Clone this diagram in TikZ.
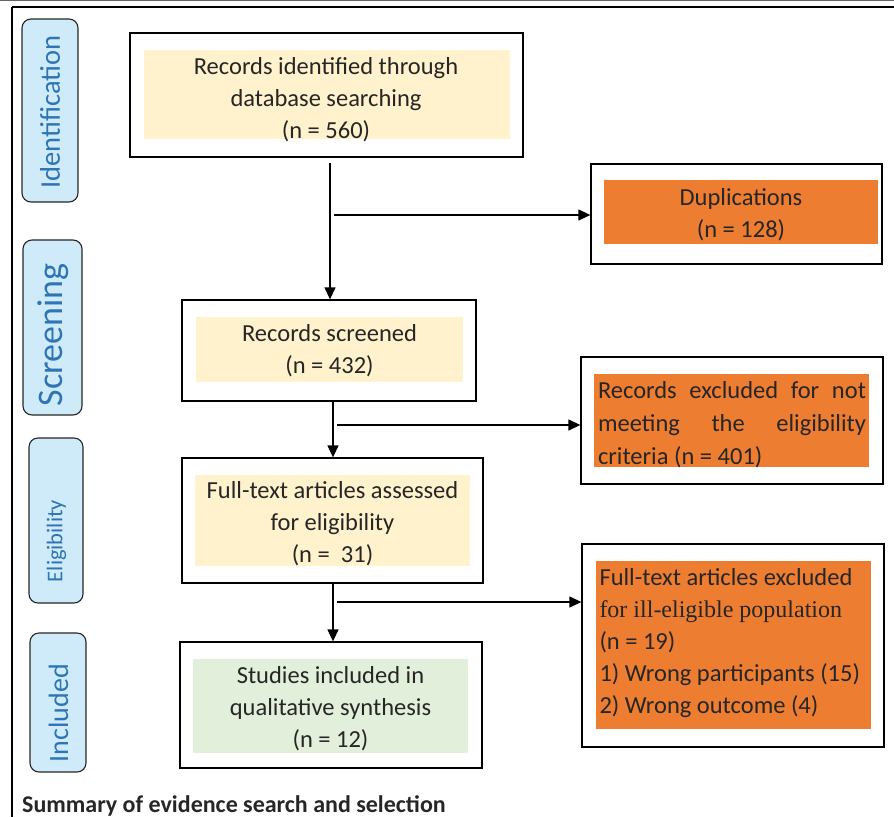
\documentclass[tikz,border=0pt]{standalone}
\usepackage{fontspec}
\setmainfont{Carlito}
\newfontfamily\serifg{Liberation Serif}
\usetikzlibrary{arrows.meta}
\definecolor{txt}{HTML}{262626}
\definecolor{yel}{HTML}{FFF2CC}
\definecolor{org}{HTML}{ED7D31}
\definecolor{grn}{HTML}{E2EFDA}
\definecolor{phfill}{HTML}{CFEAF8}
\definecolor{phtxt}{HTML}{2E75B6}
\tikzset{
  outerbox/.style={draw=black, line width=1.3pt, fill=white, rectangle, inner sep=0pt},
  innerbox/.style={rectangle, inner sep=0pt},
  boxtext/.style={inner sep=0pt, text=txt, font=\fontsize{24.5}{32}\selectfont, align=center},
  phase/.style={draw=black!85, line width=1.1pt, fill=phfill, rounded corners=9pt, inner sep=0pt},
  phtext/.style={rotate=90, text=phtxt, inner sep=0pt},
  arr/.style={line width=1.3pt, -{Triangle[length=12pt,width=11pt]}}
}
\begin{document}
\begin{tikzpicture}[x=1pt,y=-1pt]
\useasboundingbox (0,0) rectangle (894,817);
% outer frame
\draw[black!60, line width=0.8pt] (0,0.8) -- (894,0.8);
\draw[line width=1.4pt] (12,7) -- (894,7);
\draw[line width=1.4pt] (12,7) -- (12,817);
% phase labels
\node[phase, minimum width=56pt, minimum height=183pt] (pid) at (50,110.5) {};
\node[phtext, font=\fontsize{28.5}{30}\selectfont] (pidt) at (50,112) {Identification};
\node[phase, minimum width=59pt, minimum height=175pt] (psc) at (52.5,327.5) {};
\node[phtext, font=\fontsize{36}{38}\selectfont] (psct) at (53,335) {Screening};
\node[phase, minimum width=54pt, minimum height=165pt] (pel) at (56,520.5) {};
\node[phtext, font=\fontsize{22.5}{24}\selectfont] (pelt) at (56.5,541) {Eligibility};
\node[phase, minimum width=56pt, minimum height=139pt] (pin) at (58,702.5) {};
\node[phtext, font=\fontsize{28}{30}\selectfont] (pint) at (58.5,713) {Included};
% boxes
\node[outerbox, minimum width=393pt, minimum height=124pt] (b1) at (326.5,95) {};
\node[innerbox, fill=yel, minimum width=366pt, minimum height=89pt] (t1) at (327,94.5) {};
\node[boxtext] (l1) at (326,99.5) {Records identified through\\database searching\\(n = 560)};
\node[outerbox, minimum width=291pt, minimum height=100pt] (b2) at (736.5,214) {};
\node[innerbox, fill=org, minimum width=274pt, minimum height=64pt] (t2) at (741,212) {};
\node[boxtext] (l2) at (741,215) {Duplications\\(n = 128)};
\node[outerbox, minimum width=294pt, minimum height=101pt] (b3) at (329,350.5) {};
\node[innerbox, fill=yel, minimum width=267pt, minimum height=65pt] (t3) at (329.5,349.5) {};
\node[boxtext] (l3) at (329.5,350.5) {Records screened\\(n = 432)};
\node[outerbox, minimum width=302pt, minimum height=127pt] (b4) at (732,420.5) {};
\node[innerbox, fill=org, minimum width=275pt, minimum height=93pt] (t4) at (731.5,420.5) {};
\node[boxtext, align=left, font=\fontsize{24.5}{33}\selectfont] (l4) at (732,424.5) {\makebox[268pt][s]{Records excluded for not}\\\makebox[268pt][s]{meeting the eligibility}\\criteria (n = 401)};
\node[outerbox, minimum width=301pt, minimum height=125pt] (b5) at (332.5,520.5) {};
\node[innerbox, fill=yel, minimum width=275pt, minimum height=91pt] (t5) at (332.5,520.5) {};
\node[boxtext] (l5) at (332.5,523.5) {Full-text articles assessed\\for eligibility\\(n =\ \ 31)};
\node[outerbox, minimum width=302pt, minimum height=203pt] (b6) at (733,645.5) {};
\node[innerbox, fill=org, minimum width=275pt, minimum height=168pt] (t6) at (733.5,645) {};
\node[boxtext, align=left] (l6) at (733.5,643) {\makebox[268pt][l]{Full-text articles excluded}\\{\serifg\fontsize{24}{32}\selectfont for ill-eligible population}\\(n = 19)\\1) Wrong participants (15)\\2) Wrong outcome (4)};
\node[outerbox, minimum width=302pt, minimum height=126pt] (b7) at (331,705) {};
\node[innerbox, fill=grn, minimum width=275pt, minimum height=94pt] (t7) at (330.5,706) {};
\node[boxtext] (l7) at (330.5,709) {Studies included in\\qualitative synthesis\\(n = 12)};
% connectors
\coordinate (s1) at (330,163);
\draw[arr] (s1) -- (s1 |- b3.north);
\coordinate (h1) at (334,215);
\draw[arr] (h1) -- (h1 -| b2.west);
\coordinate (s2) at (333,401);
\draw[arr] (s2 |- b3.south) -- (s2 |- b5.north);
\coordinate (h2) at (337,425);
\draw[arr] (h2) -- (h2 -| b4.west);
\coordinate (s3) at (333,583);
\draw[arr] (s3 |- b5.south) -- (s3 |- b7.north);
\coordinate (h3) at (337,602);
\draw[arr] (h3) -- (h3 -| b6.west);
% caption
\node[anchor=base west, font=\fontsize{24}{28}\selectfont\bfseries, text=txt, inner sep=0pt] (cap) at (22,812) {Summary of evidence search and selection};
\end{tikzpicture}
\end{document}
